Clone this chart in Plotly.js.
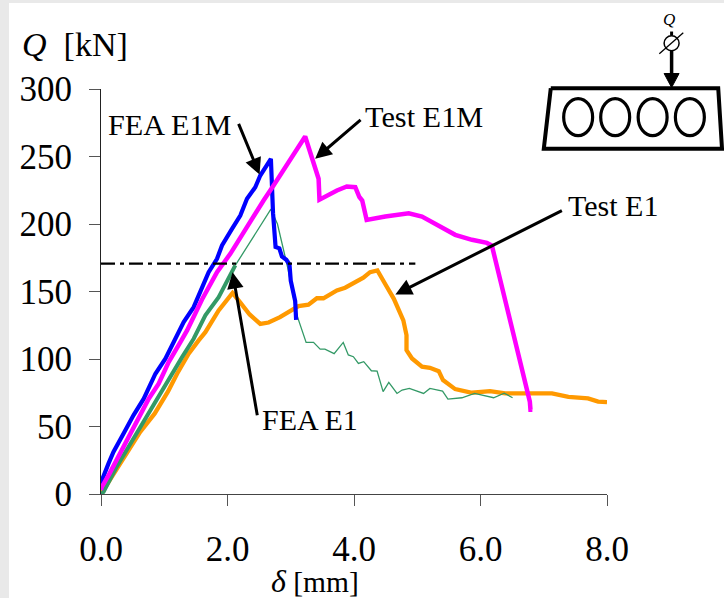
<!DOCTYPE html>
<html>
<head>
<meta charset="utf-8">
<script src="https://cdn.plot.ly/plotly-3.0.1.min.js"></script>
<style>
html,body{margin:0;padding:0;background:#e9e9e9;width:724px;height:598px;overflow:hidden}
#chart{position:absolute;left:9px;top:3px;width:715px;height:595px}
</style>
</head>
<body>
<div id="chart"></div>
<script>
var testE1X=[0,0.3,0.62,0.85,1.06,1.203,1.386,1.544,1.65,1.86,1.965,2.08,2.2,2.35,2.518,2.65,2.83,2.99,3.122,3.28,3.413,3.517,3.729,3.86,4.017,4.148,4.254,4.37,4.5,4.63,4.78,4.83,4.83,4.917,5.075,5.2,5.34,5.407,5.6,5.865,6.15,6.39,7.13,7.39,7.7,7.86,8.0];
var testE1Y=[0,22,46,59.7,76,89.1,103.9,113.8,119.9,136,142.6,149,142,133,126,127,131,136,139.2,140.2,145,145,150.8,152.8,156.9,160.2,164.3,165.6,155,144.6,128.6,117.7,106.6,100.4,94.3,93.5,91,84.4,77.7,75,76.2,74.5,74.5,72,70.8,68.4,68];

var feaE1RiseX=[0,0.04,0.26,0.434,0.576,0.81,0.887,1.097,1.282,1.465,1.65,1.86,1.965,2.123];
var feaE1RiseY=[0,1.5,21.2,34.8,45.9,64.4,70.6,87.9,101.4,115,132.3,145.8,155.7,169.3];
var feaE1X=[2.123,2.686,2.79,2.95,3.097,3.243,3.36,3.465,3.54,3.686,3.83,3.91,3.99,4.07,4.154,4.275,4.365,4.46,4.55,4.68,4.76,4.875,5.1,5.2,5.4,5.485,5.706,5.906,6.207,6.375,6.507];
var feaE1Y=[169.3,211,200,168,132.5,112.3,112.3,107.3,107.3,104,112.3,103,101.7,96.7,98,91.3,91,75.8,82.7,74.5,77,78.2,74.5,78.2,76.2,70.3,71.3,74.5,71.3,74.7,71.3];

var feaE1MX=[0,0.013,0.118,0.197,0.355,0.513,0.676,0.86,1.018,1.149,1.255,1.307,1.465,1.571,1.702,1.834,1.913,2.071,2.202,2.308,2.439,2.518,2.686,2.70,2.72,2.76,2.82,2.86,2.93,2.98,3.0,3.07,3.085];
var feaE1MY=[3,10.1,22.5,31.1,44.7,58.3,70.6,89.1,100.2,112.5,121.2,127.3,138.4,149.5,164.3,174.2,184.1,196.4,206.3,218.7,227.2,235.9,248.3,232,208,183,182,176,173.5,170,158,143,129];

var testE1MX=[0,0.013,0.134,0.26,0.439,0.592,0.755,0.912,1.07,1.255,1.361,1.597,1.834,2.044,2.25,2.423,2.57,2.728,2.939,3.228,3.44,3.454,3.73,3.886,4.02,4.085,4.13,4.2,4.495,4.865,5.075,5.34,5.6,5.865,6.1,6.18,6.78,6.79,6.82];
var testE1MY=[3,5.2,15.1,26.2,42.2,55.8,70.6,81.7,97.7,112.5,121.2,144.1,164.3,177.9,193.9,207.5,217.4,228.5,243.3,264.8,233.5,218,224.8,227.8,227.3,220,217.4,203,205.5,208,205.5,199,192,188.3,186,184,68.4,62.5,62.5];

var limitX=[0,4.97];
var limitY=[170.7,170.7];

var xTicks=[0,2,4,6,8];
var xTickLabels=['0.0','2.0','4.0','6.0','8.0'];
var yTicks=[0,50,100,150,200,250,300];

var FONT='"Liberation Serif","Times New Roman",serif';
var OFFX=9,OFFY=3,W=715,H=595;
var L=100.5,R=607.3,T=88.5,B=493.7;
// page pixel -> paper fraction (decorations only)
function px(x){return (x-L)/(R-L);}
function py(y){return (B-y)/(B-T);}

function line(x,y,color,width,extra){
  var t={x:x,y:y,mode:'lines',type:'scatter',line:{color:color,width:width},hoverinfo:'skip',showlegend:false};
  if(extra)for(var k in extra)t.line[k]=extra[k];
  return t;
}
var traces=[
  line(testE1X,testE1Y,'#ff9900',4.3),
  line(feaE1RiseX,feaE1RiseY,'#339966',4),
  line(feaE1X,feaE1Y,'#339966',1.3),
  line(feaE1MX,feaE1MY,'#0000ff',4.2),
  line(testE1MX,testE1MY,'#ff00ff',4.5),
  line(limitX,limitY,'#000000',2.2,{dash:'14px,5px,4px,5px'})
];

function label(text,x,y,size,anchor){
  return {xref:'paper',yref:'paper',x:px(x),y:py(y),text:text,showarrow:false,xanchor:anchor||'left',yanchor:'middle',
    font:{family:FONT,size:size,color:'#000'},borderpad:0,borderwidth:0};
}
function arrow(x0,y0,x1,y1){
  return {xref:'x',yref:'y',axref:'x',ayref:'y',x:x1,y:y1,ax:x0,ay:y0,text:'',showarrow:true,arrowhead:2,arrowsize:1.1,arrowwidth:3,arrowcolor:'#000'};
}
var annotations=[
  label('<i>Q</i>  [kN]',21,44,34),
  label('<i style="font-size:32px">δ</i> [mm]',271,581,29.5),
  label('FEA E1M',108,125,30.2),
  label('Test E1M',365,117,30.3),
  label('Test E1',568,205,30),
  label('FEA E1',262,419,30),
  label('<i>Q</i>',669.5,19,17,'center'),
  arrow(2.166,275.3,2.507,236.6),
  arrow(4.128,278,3.386,248.3),
  arrow(7.31,210.5,4.654,147.8),
  arrow(2.475,57.3,2.08,164.3)
];

function P(a){return a.map(function(p,i){return (i?'L':'M')+px(p[0])+','+py(p[1]);}).join(' ');}
function ell(cx,cy,rx,ry,w){
  return {type:'circle',xref:'paper',yref:'paper',x0:px(cx-rx),x1:px(cx+rx),y0:py(cy+ry),y1:py(cy-ry),line:{color:'#000',width:w}};
}
function path(a,w,fill){
  return {type:'path',xref:'paper',yref:'paper',path:P(a)+(fill?' Z':''),line:{color:'#000',width:w},fillcolor:fill||'rgba(0,0,0,0)'};
}
var shapes=[
  path([[551,87.7],[718.7,87.7],[722.5,148.3],[544,148.3],[551,87.7]],4),
  ell(578.4,116.7,14.5,18.5,3.2),ell(615.5,116.7,14.5,18.5,3.2),ell(653,116.7,14.5,18.5,3.2),ell(690.3,116.7,14.5,18.5,3.2),
  path([[672,50],[672,76]],3.5),
  path([[664.5,73],[679.5,73],[672,87]],1,'#000'),
  path([[672,31],[672,35]],3),
  ell(672,42.7,7.5,7.5,1.5),
  path([[659.7,53.3],[683.7,32.3]],1.3)
];

var layout={
  width:W,height:H,
  margin:{l:L-OFFX,r:OFFX+W-R,t:T-OFFY,b:OFFY+H-B,pad:0},
  paper_bgcolor:'#ffffff',plot_bgcolor:'#ffffff',
  showlegend:false,
  font:{family:FONT,color:'#000'},
  xaxis:{range:[0,8],tickmode:'array',tickvals:xTicks,ticktext:xTickLabels,ticks:'outside',ticklen:11,tickwidth:1,tickcolor:'#555',
    showgrid:false,zeroline:false,showline:true,linecolor:'#444',linewidth:1,tickfont:{family:FONT,size:35,color:'#000'},ticklabelstandoff:13},
  yaxis:{range:[0,300],tickmode:'array',tickvals:yTicks,ticks:'outside',ticklen:11,tickwidth:1,tickcolor:'#555',
    showgrid:false,zeroline:false,showline:true,linecolor:'#222',linewidth:1,tickfont:{family:FONT,size:35,color:'#000'},ticklabelstandoff:10},
  annotations:annotations,shapes:shapes
};
Plotly.newPlot('chart',traces,layout,{displayModeBar:false,staticPlot:true});
</script>
</body>
</html>
